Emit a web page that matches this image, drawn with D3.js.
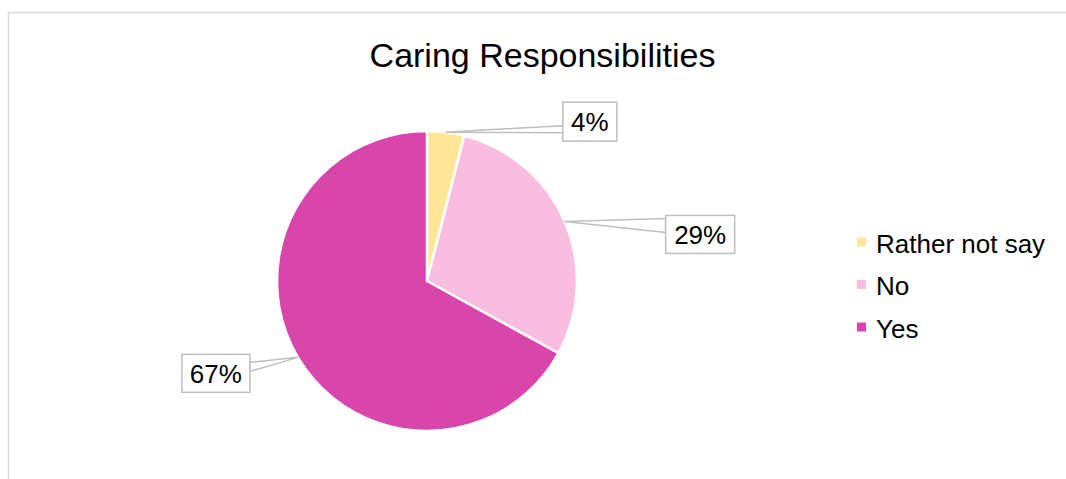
<!DOCTYPE html>
<html>
<head>
<meta charset="utf-8">
<script src="https://cdn.jsdelivr.net/npm/d3@7"></script>
<style>
  html, body { margin: 0; padding: 0; background: #fff; }
  svg { display: block; font-family: "Liberation Sans", Arial, sans-serif; }
</style>
</head>
<body>
<svg id="chart" width="1066" height="479"></svg>
<script>
// Survey answers, clockwise from 12 o'clock
const categories = ["Rather not say", "No", "Yes"];
const shares = [4, 29, 67];
const sliceColors = ["#FFE699", "#F8BDDF", "#D846AC"];
const chartTitle = "Caring Responsibilities";

const W = 1066, H = 479;
const cx = 427, cy = 281, radius = 150;

const svg = d3.select("#chart");

// outer chart frame (only top and left edges fall inside the view)
svg.append("rect")
  .attr("x", 8.5).attr("y", 12.5)
  .attr("width", W + 20).attr("height", H + 20)
  .attr("fill", "#fff")
  .attr("stroke", "#D9D9D9")
  .attr("stroke-width", 1.5);

svg.append("text")
  .attr("x", 542.5).attr("y", 67)
  .attr("text-anchor", "middle")
  .attr("font-size", 34)
  .attr("fill", "#000")
  .text(chartTitle);

const data = categories.map((c, i) => ({ name: c, value: shares[i], color: sliceColors[i] }));

const pie = d3.pie().value(d => d.value).sort(null);
const arcs = pie(data);
const arc = d3.arc().innerRadius(0).outerRadius(radius);

const g = svg.append("g").attr("transform", `translate(${cx},${cy})`);

g.selectAll("path.slice")
  .data(arcs)
  .join("path")
  .attr("class", "slice")
  .attr("d", arc)
  .attr("fill", d => d.data.color)
  .attr("stroke", "#fff")
  .attr("stroke-width", 2.5)
  .attr("stroke-linejoin", "round");

// callout placement: box centre offset from the slice's edge point,
// box size, and where the leader wedge meets the box
const callouts = [
  { dx: 144, dy: -10.5, w: 54, h: 39, side: "left",  b0: 4,   b1: 11 },
  { dx: 135.5, dy: 13,  w: 69, h: 38, side: "left",  b0: -16, b1: -2 },
  { dx: -82, dy: 16,    w: 68, h: 38, side: "right", b0: -11, b1: -2 }
];

const labels = svg.append("g");
arcs.forEach((a, i) => {
  const mid = (a.startAngle + a.endAngle) / 2;
  const ax = cx + radius * Math.sin(mid);
  const ay = cy - radius * Math.cos(mid);
  const c = callouts[i];
  const bx = ax + c.dx, by = ay + c.dy;
  const edgeX = c.side === "left" ? bx - c.w / 2 : bx + c.w / 2;

  labels.append("path")
    .attr("d", `M${ax},${ay}L${edgeX},${by + c.b0}L${edgeX},${by + c.b1}Z`)
    .attr("fill", "#fff")
    .attr("stroke", "#BFBFBF")
    .attr("stroke-width", 1.5)
    .attr("stroke-linejoin", "round");

  labels.append("rect")
    .attr("x", bx - c.w / 2).attr("y", by - c.h / 2)
    .attr("width", c.w).attr("height", c.h)
    .attr("fill", "#fff")
    .attr("stroke", "#BFBFBF")
    .attr("stroke-width", 1.5);

  labels.append("text")
    .attr("x", bx).attr("y", by + 9.5)
    .attr("text-anchor", "middle")
    .attr("font-size", 26)
    .attr("fill", "#000")
    .text(a.data.value + "%");
});

// legend
const legendY = d3.scalePoint().domain(categories).range([242, 327]);
const legend = svg.append("g");
data.forEach(d => {
  const y = legendY(d.name);
  legend.append("rect")
    .attr("x", 857).attr("y", y - 4.5)
    .attr("width", 9).attr("height", 9)
    .attr("fill", d.color);
  legend.append("text")
    .attr("x", 876).attr("y", y + 10.5)
    .attr("font-size", 26)
    .attr("fill", "#000")
    .text(d.name);
});
</script>
</body>
</html>
